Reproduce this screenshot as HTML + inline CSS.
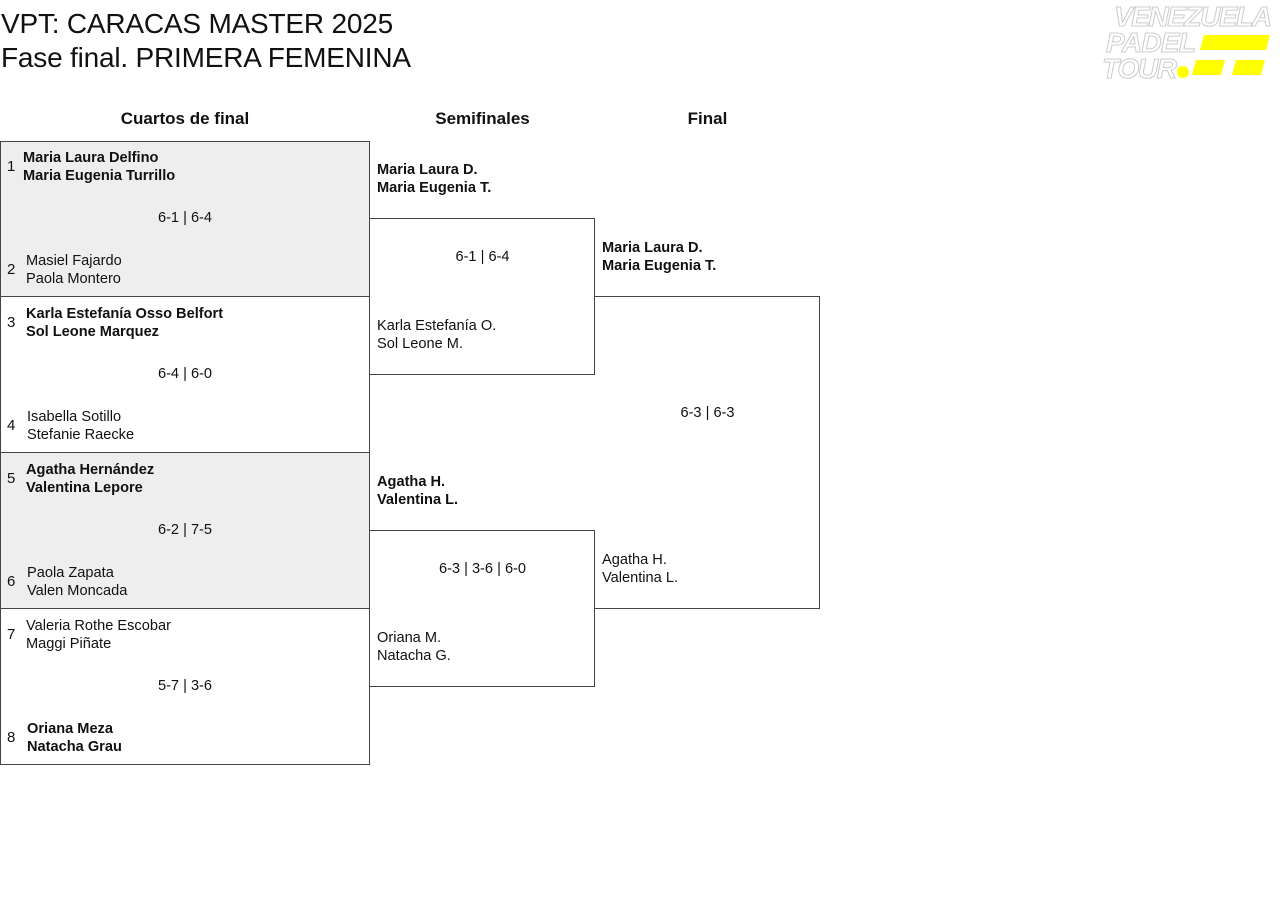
<!DOCTYPE html>
<html><head><meta charset="utf-8"><style>
body{margin:0;width:1280px;height:916px;background:#fff;font-family:"Liberation Sans",sans-serif;color:#111;position:relative;overflow:hidden}
div{position:absolute}
.t{font-size:14.6px;line-height:18px;white-space:nowrap}
.b{font-weight:bold}
.box{border:1px solid #444;box-sizing:border-box}
.h{font-size:17px;font-weight:bold;text-align:center;top:109px}
.s{font-size:14.6px;text-align:center;white-space:nowrap}
.n{font-size:15px}
</style></head><body>
<div style="left:1px;top:7px;font-size:28px;line-height:34px;letter-spacing:-0.2px">VPT: CARACAS MASTER 2025<br>Fase final. PRIMERA FEMENINA</div>
<svg style="position:absolute;left:1100px;top:2px" width="175" height="80">
<text x="14" y="24" font-family="Liberation Sans" font-style="italic" font-weight="bold" font-size="28" fill="#fff" stroke="#ccc" stroke-width="1" textLength="158">VENEZUELA</text>
<text x="6" y="50" font-family="Liberation Sans" font-style="italic" font-weight="bold" font-size="28" fill="#fff" stroke="#ccc" stroke-width="1" textLength="90">PADEL</text>
<text x="2" y="76" font-family="Liberation Sans" font-style="italic" font-weight="bold" font-size="28" fill="#fff" stroke="#ccc" stroke-width="1" textLength="75">TOUR</text>
<polygon points="104,33 170,33 166,48 100,48" fill="#ff0"/>
<circle cx="83" cy="70" r="6" fill="#ff0"/>
<polygon points="96,58 125,58 121,73 92,73" fill="#ff0"/>
<polygon points="136,58 165,58 161,73 132,73" fill="#ff0"/>
</svg>
<div class="h" style="left:0;width:370px">Cuartos de final</div>
<div class="h" style="left:370px;width:225px">Semifinales</div>
<div class="h" style="left:595px;width:225px">Final</div>

<div class="box" style="left:0;top:141px;width:370px;height:156px;background:#eee"></div>
<div class="box" style="left:0;top:296px;width:370px;height:157px"></div>
<div class="box" style="left:0;top:452px;width:370px;height:157px;background:#eee"></div>
<div class="box" style="left:0;top:608px;width:370px;height:157px"></div>
<div class="box" style="left:369px;top:218px;width:226px;height:157px;border-left:none"></div>
<div class="box" style="left:369px;top:530px;width:226px;height:157px;border-left:none"></div>
<div class="box" style="left:594px;top:296px;width:226px;height:313px;border-left:none"></div>

<div class="t n" style="left:7px;top:158px">1</div>
<div class="t b" style="left:23px;top:149px">Maria Laura Delfino<br>Maria Eugenia Turrillo</div>
<div class="s" style="left:0;width:370px;top:210px">6-1 | 6-4</div>
<div class="t n" style="left:7px;top:261px">2</div>
<div class="t" style="left:26px;top:252px">Masiel Fajardo<br>Paola Montero</div>

<div class="t n" style="left:7px;top:314px">3</div>
<div class="t b" style="left:26px;top:305px">Karla Estefanía Osso Belfort<br>Sol Leone Marquez</div>
<div class="s" style="left:0;width:370px;top:366px">6-4 | 6-0</div>
<div class="t n" style="left:7px;top:417px">4</div>
<div class="t" style="left:27px;top:408px">Isabella Sotillo<br>Stefanie Raecke</div>

<div class="t n" style="left:7px;top:470px">5</div>
<div class="t b" style="left:26px;top:461px">Agatha Hernández<br>Valentina Lepore</div>
<div class="s" style="left:0;width:370px;top:522px">6-2 | 7-5</div>
<div class="t n" style="left:7px;top:573px">6</div>
<div class="t" style="left:27px;top:564px">Paola Zapata<br>Valen Moncada</div>

<div class="t n" style="left:7px;top:626px">7</div>
<div class="t" style="left:26px;top:617px">Valeria Rothe Escobar<br>Maggi Piñate</div>
<div class="s" style="left:0;width:370px;top:678px">5-7 | 3-6</div>
<div class="t n" style="left:7px;top:729px">8</div>
<div class="t b" style="left:27px;top:720px">Oriana Meza<br>Natacha Grau</div>

<div class="t b" style="left:377px;top:161px">Maria Laura D.<br>Maria Eugenia T.</div>
<div class="s" style="left:370px;width:225px;top:249px">6-1 | 6-4</div>
<div class="t" style="left:377px;top:317px">Karla Estefanía O.<br>Sol Leone M.</div>
<div class="t b" style="left:377px;top:473px">Agatha H.<br>Valentina L.</div>
<div class="s" style="left:370px;width:225px;top:561px">6-3 | 3-6 | 6-0</div>
<div class="t" style="left:377px;top:629px">Oriana M.<br>Natacha G.</div>

<div class="t b" style="left:602px;top:239px">Maria Laura D.<br>Maria Eugenia T.</div>
<div class="s" style="left:595px;width:225px;top:405px">6-3 | 6-3</div>
<div class="t" style="left:602px;top:551px">Agatha H.<br>Valentina L.</div>
</body></html>
